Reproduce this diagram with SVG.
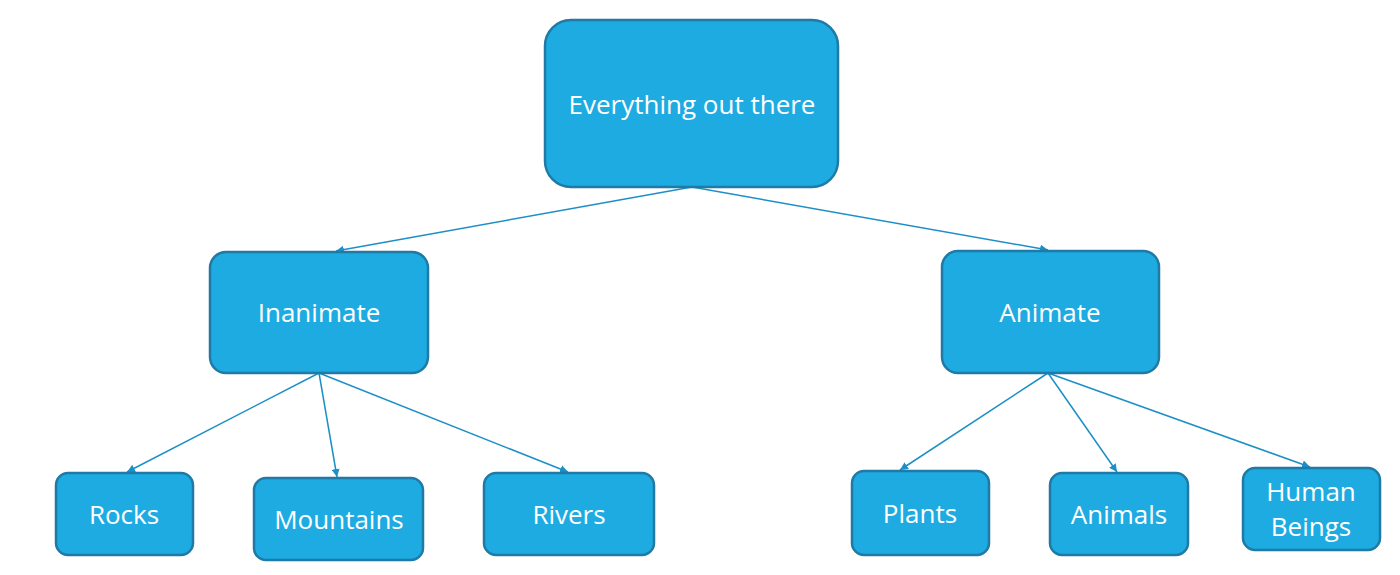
<svg xmlns="http://www.w3.org/2000/svg" width="1400" height="575" viewBox="0 0 1400 575">
<style>
.box{fill:#1EABE2;stroke:#1F7AA6;stroke-width:2.5}
.t{fill:#ffffff;font-family:"Open Sans","Liberation Sans",sans-serif;font-size:26px;text-anchor:middle;dominant-baseline:central}
.c{stroke:#1C8FC6;stroke-width:1.5;fill:none;marker-end:url(#a)}
</style>
<defs>
<marker id="a" viewBox="0 0 10 10" refX="10" refY="5" markerWidth="8" markerHeight="8" markerUnits="userSpaceOnUse" orient="auto">
<path d="M0,0 L10,5 L0,10 z" fill="#1C8FC6"/>
</marker>
</defs>
<rect width="1400" height="575" fill="#ffffff"/>
<g id="connectors">
<line class="c" x1="692" y1="187" x2="336" y2="251"/>
<line class="c" x1="692" y1="187" x2="1048" y2="250"/>
<line class="c" x1="319" y1="373" x2="127" y2="472"/>
<line class="c" x1="319" y1="373" x2="337" y2="477"/>
<line class="c" x1="319" y1="373" x2="568" y2="472"/>
<line class="c" x1="1048" y1="373" x2="900" y2="470"/>
<line class="c" x1="1048" y1="373" x2="1117" y2="472"/>
<line class="c" x1="1048" y1="373" x2="1310" y2="467"/>
</g>
<g id="n-everything"><rect class="box" x="545" y="20" width="293" height="167" rx="26"/><text class="t" x="692" y="104">Everything out there</text></g>
<g id="n-inanimate"><rect class="box" x="210" y="252" width="218" height="121" rx="16"/><text class="t" x="319" y="312">Inanimate</text></g>
<g id="n-animate"><rect class="box" x="942" y="251" width="217" height="122" rx="16"/><text class="t" x="1050" y="312">Animate</text></g>
<g id="n-rocks"><rect class="box" x="56" y="473" width="137" height="82" rx="12"/><text class="t" x="124" y="514">Rocks</text></g>
<g id="n-mountains"><rect class="box" x="254" y="478" width="169" height="82" rx="12"/><text class="t" x="339" y="519">Mountains</text></g>
<g id="n-rivers"><rect class="box" x="484" y="473" width="170" height="82" rx="12"/><text class="t" x="569" y="514">Rivers</text></g>
<g id="n-plants"><rect class="box" x="852" y="471" width="137" height="84" rx="12"/><text class="t" x="920" y="513">Plants</text></g>
<g id="n-animals"><rect class="box" x="1050" y="473" width="138" height="82" rx="12"/><text class="t" x="1119" y="514">Animals</text></g>
<g id="n-human"><rect class="box" x="1243" y="468" width="137" height="82" rx="12"/><text class="t" x="1311" y="491">Human</text><text class="t" x="1311" y="526">Beings</text></g>
</svg>
